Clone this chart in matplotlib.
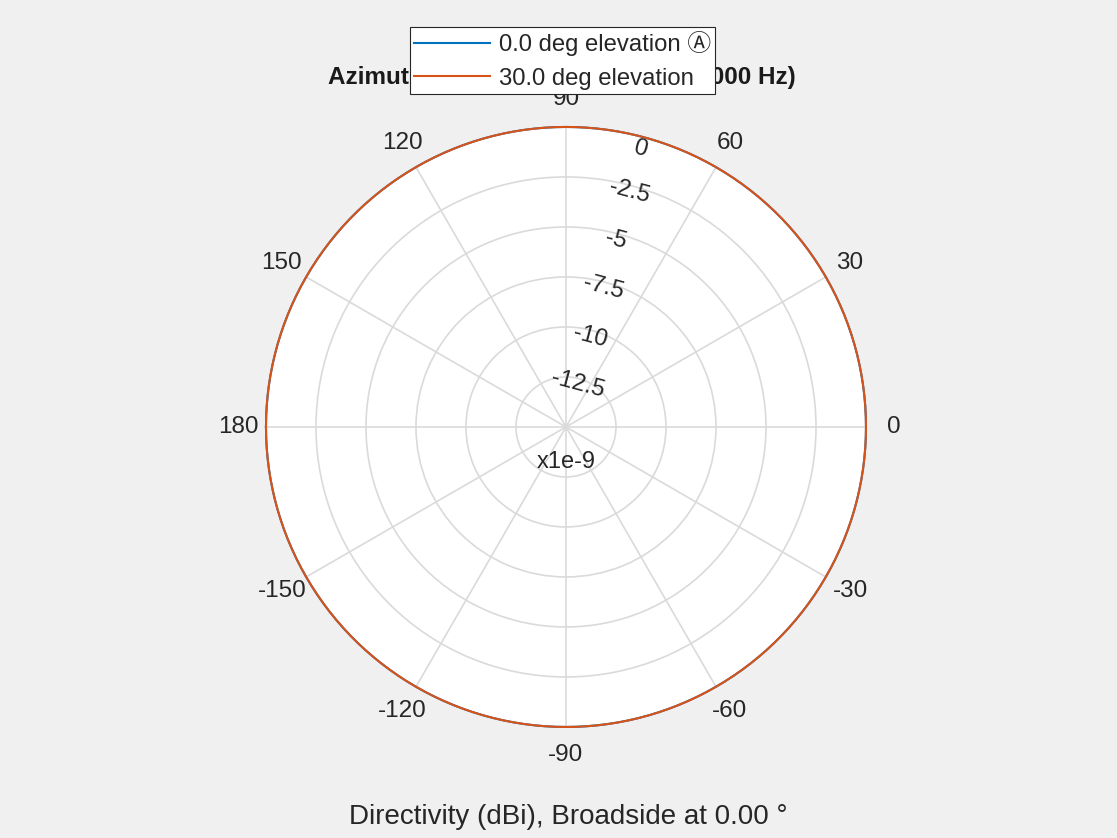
import numpy as np
import matplotlib
matplotlib.use("Agg")
from matplotlib import pyplot as plt

plt.rcParams['font.family'] = ['Liberation Sans', 'DejaVu Sans', 'Noto Sans CJK SC']

# azimuth cut, directivity shown in units of 1e-9 dBi
azimuth_deg = list(range(-180, 181))
dir_el0 = [0.0] * len(azimuth_deg)
dir_el30 = [0.0] * len(azimuth_deg)
series_labels = ['0.0 deg elevation \u24b6', '30.0 deg elevation']

r_ticks = [0, -2.5, -5, -7.5, -10, -12.5]
r_min, r_max = -15, 0
theta_ticks = list(range(0, 360, 30))
theta_labels = ['0', '30', '60', '90', '120', '150', '180',
                '-150', '-120', '-90', '-60', '-30']

title_txt = 'Azimuth Cut (frequency = 300000000 Hz)'
bottom_txt = 'Directivity (dBi), Broadside at 0.00 \u00b0'

fs = 17.5
grid_c = '#dadada'
txt_c = '#262626'

fig = plt.figure(figsize=(11.17, 8.38), dpi=100)
fig.patch.set_facecolor('#f0f0f0')
ax = fig.add_axes([0.2381, 0.1325, 0.5372, 0.716], projection='polar')
ax.set_facecolor('white')

th = np.deg2rad(azimuth_deg)
l1, = ax.plot(th, dir_el0, color='#0072BD', lw=1.5, clip_on=False, zorder=5)
l2, = ax.plot(th, dir_el30, color='#D95319', lw=1.5, clip_on=False, zorder=6)

ax.set_ylim(r_min, r_max)
ax.set_yticks([t for t in r_ticks if t != 0])
ax.set_yticklabels([])
ax.set_xticks(np.deg2rad(theta_ticks))
ax.set_xticklabels([])
ax.grid(True, color=grid_c, lw=1.2)
ax.spines['polar'].set_color(grid_c)
ax.tick_params(length=0)

# angle labels
for t, lab in zip(theta_ticks, theta_labels):
    ax.text(np.deg2rad(t), r_max + 1.4, lab, ha='center', va='center',
            fontsize=fs, color=txt_c, clip_on=False)

# radial labels, slanted along a 75 deg spoke
for v in r_ticks:
    off = 0.6 if v == 0 else 0.3
    ax.text(np.deg2rad(75), v - off, '%g' % v, ha='center', va='center',
            fontsize=fs - 0.3, color=txt_c, rotation=-15,
            rotation_mode='anchor')

ax.text(0.5, 0.442, 'x1e-9', transform=ax.transAxes, ha='center',
        va='center', fontsize=fs - 0.5, color=txt_c)

fig.text(0.503, 0.908, title_txt, ha='center', va='center',
         fontsize=fs, fontweight='bold', color='#1a1a1a')
fig.text(0.5085, 0.025, bottom_txt, ha='center', va='center',
         fontsize=20, color=txt_c)

leg = fig.legend([l1, l2], series_labels, loc='upper left',
                 bbox_to_anchor=(0.367, 0.968), fontsize=17.2,
                 fancybox=False, framealpha=1, edgecolor='#262626',
                 handlelength=3.2, borderpad=0.17, labelspacing=0.5,
                 handletextpad=0.35, borderaxespad=0)
leg.get_frame().set_linewidth(0.8)
leg.set_zorder(20)
for t in leg.get_texts():
    t.set_color(txt_c)

fig.savefig('out.png', dpi=100, facecolor=fig.get_facecolor())
